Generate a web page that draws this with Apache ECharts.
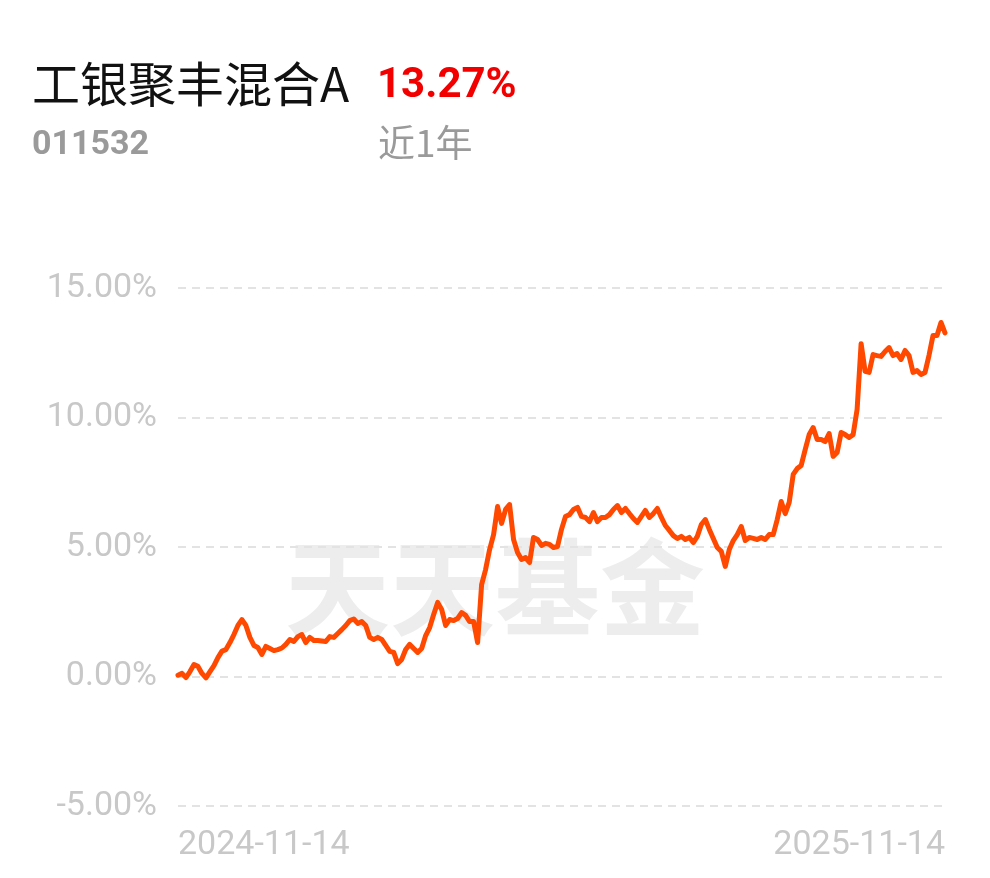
<!DOCTYPE html>
<html>
<head>
<meta charset="utf-8">
<script src="https://cdn.jsdelivr.net/npm/echarts@6/dist/echarts.min.js"></script>
<style>
html,body{margin:0;padding:0;background:#fff;}
#chart{width:990px;height:878px;}
</style>
</head>
<body>
<div id="chart"></div>
<script>
// ---- data ----
const fundName = '工银聚丰混合A';
const fundCode = '011532';
const periodReturn = '13.27%';
const periodLabel = '近1年';
const watermark = '天天基金';
const startDate = '2024-11-14';
const endDate = '2025-11-14';
const yTicks = [-5, 0, 5, 10, 15];
const returns = [
  0.05, 0.12, -0.04, 0.19, 0.46, 0.39, 0.12, -0.05, 0.19, 0.42,
  0.73, 0.98, 1.04, 1.31, 1.62, 1.97, 2.20, 1.97, 1.51, 1.20,
  1.12, 0.85, 1.16, 1.08, 1.00, 1.04, 1.10, 1.24, 1.43, 1.35,
  1.54, 1.62, 1.31, 1.51, 1.39, 1.39, 1.37, 1.35, 1.54, 1.51,
  1.66, 1.81, 1.97, 2.16, 2.22, 2.05, 2.12, 1.97, 1.51, 1.43,
  1.51, 1.43, 1.20, 0.97, 0.93, 0.50, 0.66, 1.04, 1.24, 1.08,
  0.93, 1.08, 1.58, 1.89, 2.39, 2.86, 2.59, 1.97, 2.20, 2.16,
  2.24, 2.47, 2.36, 2.12, 2.12, 1.31, 3.55, 4.13, 4.90, 5.48,
  6.56, 5.91, 6.45, 6.64, 5.29, 4.79, 4.52, 4.59, 4.40, 5.37,
  5.29, 5.06, 5.14, 5.10, 4.98, 5.02, 5.68, 6.18, 6.25, 6.45,
  6.53, 6.18, 6.14, 5.98, 6.33, 5.98, 6.14, 6.14, 6.25, 6.45,
  6.60, 6.33, 6.49, 6.29, 6.10, 5.95, 6.18, 6.41, 6.14, 6.29,
  6.49, 6.14, 5.83, 5.64, 5.44, 5.33, 5.41, 5.29, 5.37, 5.17,
  5.41, 5.87, 6.06, 5.68, 5.33, 4.98, 4.83, 4.25, 4.90, 5.25,
  5.48, 5.79, 5.25, 5.37, 5.33, 5.29, 5.37, 5.29, 5.48, 5.48,
  6.06, 6.76, 6.29, 6.72, 7.80, 8.03, 8.15, 8.76, 9.34, 9.61,
  9.15, 9.15, 9.07, 9.38, 8.50, 8.65, 9.42, 9.34, 9.23, 9.34,
  10.31, 12.85, 11.78, 11.74, 12.43, 12.39, 12.36, 12.55, 12.70, 12.39,
  12.47, 12.24, 12.59, 12.39, 11.74, 11.81, 11.66, 11.74, 12.40, 13.17,
  13.17, 13.67, 13.27
];
const categories = returns.map((_, i) =>
  i === 0 ? startDate : (i === returns.length - 1 ? endDate : 'd' + i));

// ---- chart ----
const chart = echarts.init(document.getElementById('chart'), null, {renderer: 'canvas'});
const option = {
  backgroundColor: '#ffffff',
  animation: false,
  grid: {left: 178, right: 45, top: 288, bottom: 72, containLabel: false},
  graphic: [
    {type: 'text', left: 32, top: 60, z: 10,
     style: {text: fundName, font: '48px "Noto Sans CJK SC", sans-serif', fill: '#111'}},
    {type: 'text', left: 377, top: 65, z: 10,
     style: {text: periodReturn, font: 'bold 42px Roboto, sans-serif', fill: '#f20000'}},
    {type: 'text', left: 32, top: 128, z: 10,
     style: {text: fundCode, font: 'bold 34px Roboto, sans-serif', fill: '#9a9a9a'}},
    {type: 'text', left: 378, top: 124, z: 10,
     style: {text: periodLabel, font: '37px "Noto Sans CJK SC", sans-serif', fill: '#9a9a9a'}},
    {type: 'text', left: 285, top: 535, z: -1, silent: true,
     style: {text: watermark, font: 'bold 105px "Noto Sans CJK SC", sans-serif', fill: '#ededed'}}
  ],
  xAxis: {
    type: 'category',
    data: categories,
    boundaryGap: false,
    axisLine: {show: false},
    axisTick: {show: false},
    splitLine: {show: false},
    axisLabel: {
      interval: (i) => i === 0 || i === categories.length - 1,
      formatter: (v) => v,
      color: '#c8c8c8',
      fontSize: 34,
      fontFamily: 'Roboto, sans-serif',
      margin: 22,
      alignMinLabel: 'left',
      alignMaxLabel: 'right'
    }
  },
  yAxis: {
    type: 'value',
    min: yTicks[0],
    max: yTicks[yTicks.length - 1],
    interval: 5,
    axisLine: {show: false},
    axisTick: {show: false},
    splitLine: {show: true, lineStyle: {color: '#e3e3e3', width: 2, type: [8, 6]}},
    axisLabel: {
      formatter: (v) => v.toFixed(2) + '%',
      color: '#c8c8c8',
      fontSize: 34,
      fontFamily: 'Roboto, sans-serif',
      margin: 21
    }
  },
  series: [{
    type: 'line',
    data: returns,
    showSymbol: false,
    symbol: 'none',
    smooth: false,
    z: 5,
    lineStyle: {color: '#ff4800', width: 5, join: 'round', cap: 'round'}
  }]
};
chart.setOption(option);
</script>
</body>
</html>
